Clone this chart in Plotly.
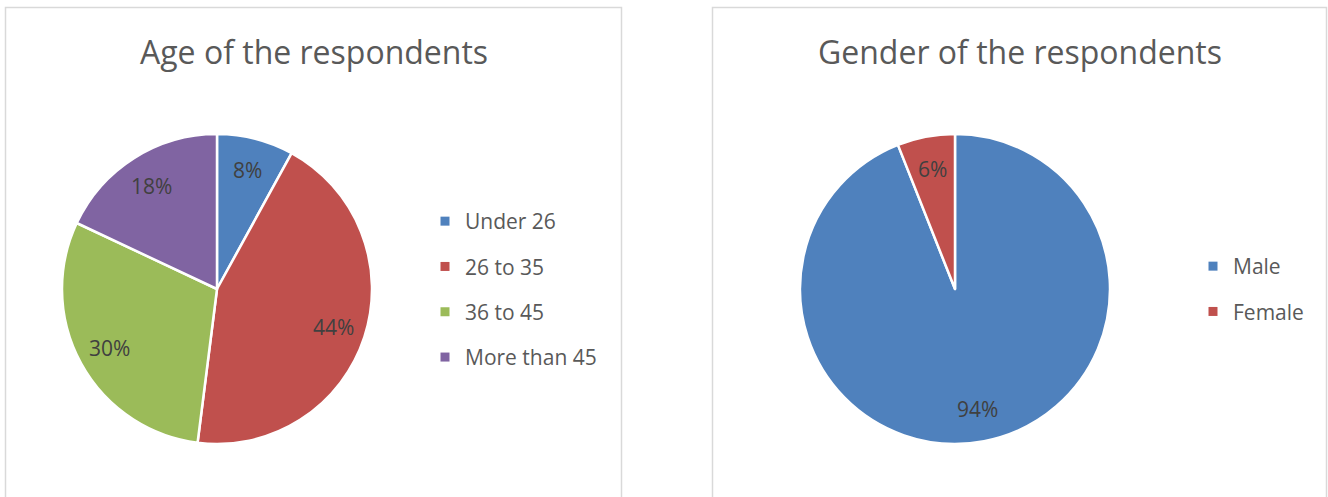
import math
import plotly.graph_objects as go

W, H = 1328, 497

age_labels = ["Under 26", "26 to 35", "36 to 45", "More than 45"]
age_values = [8, 44, 30, 18]
age_colors = ["#4F81BD", "#C0504D", "#9BBB59", "#8064A2"]

gender_labels = ["Male", "Female"]
gender_values = [94, 6]
gender_colors = ["#4F81BD", "#C0504D"]

titles = ["Age of the respondents", "Gender of the respondents"]

FONT = "Open Sans"
LABEL_R = 0.79  # Excel-like label distance (fraction of radius)


def px_x(p):
    return p / W


def px_y(p):
    return 1 - p / H


# pie geometry (pixels): centre and radius
pies = [
    dict(labels=age_labels, values=age_values, colors=age_colors, cx=217, cy=289, r=155),
    dict(labels=gender_labels, values=gender_values, colors=gender_colors, cx=955, cy=289, r=155),
]

fig = go.Figure()
annotations = []

for p in pies:
    fig.add_trace(go.Pie(
        labels=p["labels"], values=p["values"], sort=False, direction="clockwise",
        rotation=0, marker=dict(colors=p["colors"], line=dict(color="white", width=2.5)),
        textinfo="none", textposition="none",
        domain=dict(x=[px_x(p["cx"] - p["r"]), px_x(p["cx"] + p["r"])],
                    y=[px_y(p["cy"] + p["r"]), px_y(p["cy"] - p["r"])]),
        showlegend=False, hoverinfo="label+percent",
    ))
    # percentage labels placed at the middle angle of each slice
    total = sum(p["values"])
    cum = 0.0
    for v in p["values"]:
        mid = (cum + v / 2) / total * 2 * math.pi
        cum += v
        x = p["cx"] + LABEL_R * p["r"] * math.sin(mid)
        y = p["cy"] - LABEL_R * p["r"] * math.cos(mid)
        annotations.append(dict(
            text=f"{round(v / total * 100)}%", x=px_x(x), y=px_y(y),
            xref="paper", yref="paper", xanchor="center", yanchor="middle",
            showarrow=False, font=dict(family=FONT, size=21, color="#404040"),
        ))

# legend entries (one group per category so the spacing can be matched)
for lab, col in zip(age_labels, age_colors):
    fig.add_trace(go.Scatter(
        x=[None], y=[None], mode="markers", name=lab, legendgroup="a_" + lab,
        marker=dict(symbol="square", size=9, color=col), legend="legend",
    ))
for lab, col in zip(gender_labels, gender_colors):
    fig.add_trace(go.Scatter(
        x=[None], y=[None], mode="markers", name=lab, legendgroup="g_" + lab,
        marker=dict(symbol="square", size=9, color=col), legend="legend2",
    ))

legend_common = dict(
    font=dict(family=FONT, size=21, color="#595959"),
    bgcolor="rgba(0,0,0,0)", borderwidth=0, traceorder="grouped",
    tracegroupgap=15, xanchor="left", yanchor="top",
)

shapes = [
    dict(type="rect", xref="paper", yref="paper",
         x0=px_x(5.5), x1=px_x(621.5), y0=px_y(520), y1=px_y(7.5),
         line=dict(color="#D9D9D9", width=1.5), fillcolor="rgba(0,0,0,0)", layer="below"),
    dict(type="rect", xref="paper", yref="paper",
         x0=px_x(712.5), x1=px_x(1326.5), y0=px_y(520), y1=px_y(7.5),
         line=dict(color="#D9D9D9", width=1.5), fillcolor="rgba(0,0,0,0)", layer="below"),
]

annotations += [
    dict(text=titles[0], x=px_x(314), y=px_y(51), xref="paper", yref="paper",
         xanchor="center", yanchor="middle", showarrow=False,
         font=dict(family=FONT, size=32, color="#595959")),
    dict(text=titles[1], x=px_x(1020), y=px_y(51), xref="paper", yref="paper",
         xanchor="center", yanchor="middle", showarrow=False,
         font=dict(family=FONT, size=32, color="#595959")),
]

fig.update_layout(
    width=W, height=H, margin=dict(l=0, r=0, t=0, b=0),
    paper_bgcolor="white", plot_bgcolor="white",
    xaxis=dict(visible=False), yaxis=dict(visible=False),
    shapes=shapes, annotations=annotations,
    legend=dict(x=px_x(425), y=px_y(201), **legend_common),
    legend2=dict(x=px_x(1193), y=px_y(246), **legend_common),
)

fig.write_html("out.html", config={"displayModeBar": False},
               post_script="document.body.style.margin='0px';")
